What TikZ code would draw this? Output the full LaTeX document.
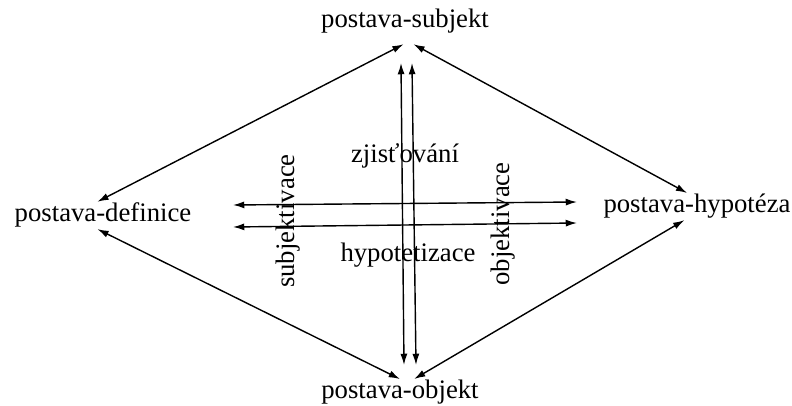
\documentclass[tikz,border=0pt]{standalone}
\usepackage{fontspec}
\setmainfont{Liberation Serif}
\usetikzlibrary{arrows.meta}

\begin{document}
\begin{tikzpicture}[x=0.025cm, y=-0.025cm, >={Latex[length=8pt,width=5pt]}, line width=1pt,
        every node/.style={font=\fontsize{19}{22}\selectfont, inner sep=0.5pt}]
        \useasboundingbox (0,0) rectangle (792,406);

        \node[anchor=base, inner ysep=7pt] at (405,28) (subj) {postava-subjekt};
        \node[anchor=base] at (103,222) (def) {postava-definice};
        \node[anchor=base] at (697,213) (hyp) {postava-hypotéza};
        \node[anchor=base] at (400,399) (obj) {postava-objekt};

        \node[anchor=base] at (405,163) (zjist) {zjisťování};
        \node[anchor=base] at (408,262) (hypot) {hypotetizace};
        \node[rotate=90] at (288,221) (subjv) {subjektivace};
        \node[rotate=90] at (503,224) (objv) {objektivace};

        \coordinate (v1t) at (401,63);
        \coordinate (v1b) at (404,365);
        \coordinate (v2t) at (412,63);
        \coordinate (v2b) at (416,365);
        \coordinate (h1l) at (233,205);
        \coordinate (h1r) at (577,202);
        \coordinate (h2l) at (233,227);
        \coordinate (h2r) at (577,223);

        \path[<->]
        ([xshift=-4pt]def.north) edge ([xshift=-1pt]subj.south)
        ([xshift=6pt]subj.south) edge ([xshift=-7pt]hyp.north)
        ([xshift=-9pt]hyp.south) edge ([xshift=10pt]obj.north)
        ([xshift=-4pt]def.south) edge (obj.north)

        (v1t) edge (v1b)
        (v2t) edge (v2b)

        (h1l) edge (h1r)
        (h2l) edge (h2r)
        ;
    \end{tikzpicture}
\end{document}
